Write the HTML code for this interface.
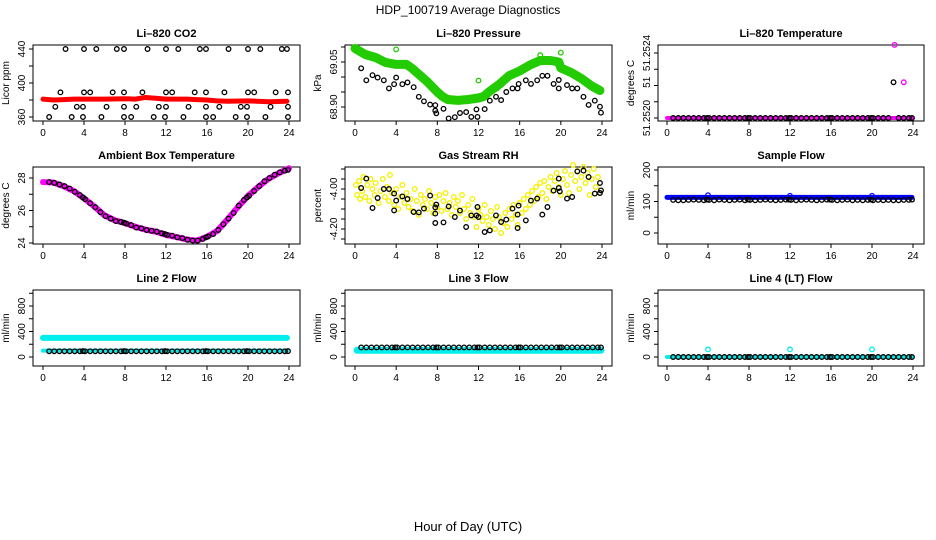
<!DOCTYPE html>
<html><head><meta charset="utf-8"><style>
body{margin:0;background:#fff}
svg{display:block;font-family:"Liberation Sans",sans-serif}
.t{font-weight:bold;font-size:11px}
.k{font-size:10px}
</style></head><body>
<svg id="c" width="936" height="540" viewBox="0 0 936 540">
<text x="468" y="14" text-anchor="middle" font-size="12">HDP_100719  Average Diagnostics</text>
<text x="468" y="531" text-anchor="middle" font-size="13">Hour of Day (UTC)</text>
</svg>
<script>
const xTicks=[0,4,8,12,16,20,24];
const blackHours=[0.6,1.1,1.6,2.1,2.6,3.1,3.6,3.9,4.1,4.6,5.1,5.6,6.1,6.6,7.1,7.6,7.9,8.1,8.6,9.1,9.6,10.1,10.6,11.1,11.6,11.9,12.1,12.6,13.1,13.6,14.1,14.6,15.1,15.6,15.9,16.1,16.6,17.1,17.6,18.1,18.6,19.1,19.6,19.9,20.1,20.6,21.1,21.6,22.1,22.6,23.1,23.6,23.9];
// CO2
const co2BlackH=[2.2,4.0,5.2,7.2,7.9,10.2,12.0,13.2,15.3,15.9,18.1,20.0,21.2,23.3,23.8,1.7,4.0,4.6,6.8,7.9,9.7,12.0,12.6,14.8,15.9,17.7,20.0,20.6,22.7,23.9,1.2,3.3,3.9,6.2,7.9,9.1,11.3,12.0,14.2,15.9,17.2,19.3,19.9,22.2,23.9,0.6,2.8,3.9,5.7,7.9,8.6,10.8,11.9,13.7,15.9,16.6,18.8,19.9,21.7,23.9];
const co2BlackV=[440,440,440,440,440,440,440,440,440,440,440,440,440,440,440,389,389,389,389,389,389,389,389,389,389,389,389,389,389,389,372,372,372,372,372,372,372,372,372,372,372,372,372,372,372,360,360,360,360,360,360,360,360,360,360,360,360,360,360,360];
const co2LineH=[0,1,2,3,4,6,8,9,10,11,12,14,15,16,17,18,20,22,23.8];
const co2LineV=[381,380,380.5,381,381,381,381.5,381,383,382,381,381,380.5,380,379,378.5,379,378,378.5];
// Pressure
const presBandH=[0,0.5,1,2,3,4,5,5.5,6,7,8,8.5,9,10,11,12,12.5,13,14,15,16,17,18,19,19.8,20,21,22,23,23.8];
const presBandV=[69.095,69.085,69.075,69.065,69.048,69.042,69.042,69.03,69.015,68.985,68.95,68.935,68.925,68.922,68.925,68.93,68.935,68.95,68.975,69.005,69.02,69.04,69.055,69.055,69.05,69.03,69.015,68.995,68.97,68.955];
const presGreenH=[4.0,12.0,18.0,20.0,13.8];
const presGreenV=[69.092,68.988,69.073,69.081,68.962];
const presBlackH=[0.6,1.1,1.7,2.2,2.8,3.3,3.8,4.0,4.6,5.1,5.7,6.2,6.7,7.3,7.8,7.8,7.9,8.6,9.1,9.7,10.2,10.8,11.3,11.8,11.9,12.6,13.1,13.7,14.2,14.7,15.3,15.8,15.9,16.6,17.1,17.7,18.2,18.7,19.3,19.8,19.8,20.6,21.1,21.6,22.2,22.7,23.3,23.8,23.9];
const presBlackV=[69.029,68.989,69.006,68.998,68.989,68.962,68.976,68.998,68.976,68.982,68.966,68.934,68.919,68.908,68.906,68.888,68.879,68.894,68.862,68.866,68.880,68.883,68.867,68.892,68.867,68.893,68.921,68.934,68.923,68.950,68.962,68.962,68.977,68.989,68.977,68.989,69.004,69.004,68.977,68.990,68.962,68.973,68.962,68.962,68.934,68.907,68.921,68.901,68.881];
// Li-820 temperature
const tempLineH=[0,23.9];
const tempLineV=[51.2520,51.2520];
const tempMagH=[22.2,23.1];
const tempMagV=[51.25245,51.25222];
const tempBlackV=[51.252,51.252,51.252,51.252,51.252,51.252,51.252,51.252,51.252,51.252,51.252,51.252,51.252,51.252,51.252,51.252,51.252,51.252,51.252,51.252,51.252,51.252,51.252,51.252,51.252,51.252,51.252,51.252,51.252,51.252,51.252,51.252,51.252,51.252,51.252,51.252,51.252,51.252,51.252,51.252,51.252,51.252,51.252,51.252,51.252,51.252,51.252,51.252,51.25222,51.252,51.252,51.252,51.252];
// Ambient box temperature
const ambLineH=[0,1,2,3,4,5,6,7,8,9,10,11,12,13,14,15,16,17,18,19,20,21,22,23,24];
const ambLineV=[27.75,27.72,27.5,27.2,26.75,26.25,25.7,25.4,25.22,25.0,24.82,24.7,24.5,24.37,24.22,24.15,24.38,24.75,25.45,26.2,26.9,27.45,27.95,28.3,28.6];
const ambBlackV=[27.75,27.7,27.6,27.5,27.35,27.15,26.95,26.8,26.7,26.45,26.2,25.9,25.65,25.5,25.35,25.3,25.25,25.2,25.1,24.95,24.9,24.8,24.75,24.7,24.6,24.55,24.5,24.45,24.35,24.3,24.2,24.15,24.15,24.25,24.35,24.4,24.55,24.8,25.15,25.5,25.85,26.3,26.65,26.8,26.9,27.2,27.5,27.8,28.0,28.2,28.35,28.45,28.5];
// RH
const rhYellowH=[0.1,0.2,0.4,0.5,0.7,0.8,1.0,1.2,1.4,1.5,1.7,1.9,2.0,2.3,2.5,2.7,2.9,3.1,3.3,3.4,3.6,3.8,4.0,4.2,4.4,4.6,4.8,5.0,5.2,5.4,5.6,5.8,6.0,6.2,6.4,6.6,6.8,7.0,7.2,7.4,7.6,7.8,8.0,8.2,8.4,8.6,8.8,9.0,9.2,9.4,9.6,9.8,10.0,10.2,10.4,10.6,10.8,11.0,11.2,11.4,11.6,11.8,12.0,12.2,12.4,12.6,12.8,13.0,13.2,13.4,13.6,13.8,14.0,14.2,14.4,14.6,14.8,15.0,15.2,15.4,15.6,15.8,16.0,16.2,16.4,16.6,16.8,17.0,17.2,17.4,17.6,17.8,18.0,18.2,18.4,18.6,18.8,19.0,19.2,19.4,19.6,19.8,20.0,20.2,20.4,20.6,20.8,21.0,21.2,21.4,21.6,21.8,22.0,22.2,22.4,22.6,22.8,23.0,23.2,23.4,23.6,23.8];
const rhYellowV=[-3.98,-4.03,-3.96,-4.05,-4.01,-3.94,-4.04,-3.98,-4.06,-3.95,-4.00,-4.03,-3.97,-4.07,-4.01,-3.95,-4.04,-3.99,-4.06,-3.93,-4.02,-4.08,-4.00,-4.10,-4.04,-3.98,-4.07,-4.02,-4.09,-4.05,-4.11,-4.00,-4.06,-4.13,-4.03,-4.08,-4.05,-4.10,-4.01,-4.07,-4.12,-4.04,-4.09,-4.03,-4.11,-4.06,-4.02,-4.10,-4.07,-4.13,-4.04,-4.09,-4.06,-4.12,-4.03,-4.10,-4.15,-4.08,-4.12,-4.05,-4.14,-4.19,-4.10,-4.13,-4.16,-4.08,-4.14,-4.18,-4.11,-4.15,-4.20,-4.09,-4.14,-4.22,-4.17,-4.12,-4.19,-4.10,-4.15,-4.08,-4.13,-4.18,-4.07,-4.12,-4.05,-4.10,-4.03,-4.08,-4.01,-4.06,-3.99,-4.04,-3.97,-4.02,-3.96,-4.05,-3.99,-3.94,-4.01,-3.96,-3.92,-3.99,-4.03,-3.95,-3.91,-3.98,-4.02,-3.93,-3.88,-3.96,-3.91,-4.00,-3.94,-3.89,-3.97,-3.92,-4.03,-3.95,-3.90,-3.99,-3.94,-4.02];
const rhBlackH=[0.6,1.1,1.7,2.2,2.8,3.3,3.8,3.8,4.0,4.6,5.1,5.7,6.2,6.7,7.3,7.8,7.8,7.8,7.9,8.6,9.1,9.7,10.2,10.8,11.3,11.8,11.9,12.0,12.6,13.1,13.7,14.2,14.7,15.3,15.8,15.8,15.9,16.6,17.1,17.7,18.2,18.7,19.3,19.8,19.8,19.9,20.6,21.1,21.6,22.2,22.7,23.3,23.8,23.9,23.8];
const rhBlackV=[-3.995,-3.948,-4.095,-4.045,-4.00,-4.00,-4.023,-4.107,-4.058,-4.037,-4.05,-4.115,-4.117,-4.098,-4.033,-4.092,-4.123,-4.17,-4.078,-4.167,-4.087,-4.14,-4.108,-4.19,-4.132,-4.132,-4.09,-4.14,-4.215,-4.207,-4.132,-4.165,-4.153,-4.098,-4.128,-4.195,-4.083,-4.157,-4.058,-4.048,-4.128,-4.09,-4.008,-3.948,-3.995,-4.012,-4.048,-4.04,-3.912,-3.908,-3.94,-4.023,-3.97,-4.007,-4.02];
// Flows
const sfLineH=[0,23.9];const sfLineV=[113,113];
const sfBlueH=[4.0,12.0,20.0];const sfBlueV=[120,118,118];
const sfBlackV=[105,104,104,105,106,105,104,106,105,104,106,105,104,105,106,104,106,105,104,105,106,105,104,105,106,106,105,104,105,106,105,104,105,106,106,105,104,105,106,104,105,104,105,106,104,105,104,105,104,104,105,105,106];
const l2UpperH=[0,23.8];const l2UpperV=[300,300];
const l2LowerH=[0,23.8];const l2LowerV=[100,100];
const l2BlackV=[90,90,90,90,90,90,90,92,90,90,90,90,90,90,90,90,92,90,90,90,90,90,90,90,90,92,90,90,90,90,90,90,90,90,92,90,90,90,90,90,90,90,90,92,90,90,90,90,90,90,90,90,92];
const l3LineH=[0.2,23.9];const l3LineV=[105,105];
const l3BlackV=[150,150,150,150,150,150,150,150,150,150,150,150,150,150,150,150,150,150,150,150,150,150,150,150,150,150,150,150,150,150,150,150,150,150,150,150,150,150,150,150,150,150,150,150,150,150,150,150,150,150,150,150,150];
const l4LineH=[0,23.9];const l4LineV=[0,0];
const l4CyanH=[4.0,12.0,20.0];const l4CyanV=[120,120,120];
const l4BlackV=[0,0,0,0,0,0,0,0,0,0,0,0,0,0,0,0,0,0,0,0,0,0,0,0,0,0,0,0,0,0,0,0,0,0,0,0,0,0,0,0,0,0,0,0,0,0,0,0,0,0,0,0,0];

const NS='http://www.w3.org/2000/svg';
const svg=document.getElementById('c');
const cols=[{b0:33,b1:300,x0:43,x24:289},{b0:345,b1:612,x0:355,x24:602},{b0:658,b1:924,x0:667,x24:913}];
const rows=[{t:45,b:121},{t:167,b:244},{t:290,b:366}];
function mk(tag,attrs,parent){const e=document.createElementNS(NS,tag);for(const k in attrs)e.setAttribute(k,attrs[k]);(parent||svg).appendChild(e);return e;}
function panel(c,r,name,title,ytitle,a,ticks,labels){
  const C=cols[c],R=rows[r];
  const g=mk('g',{});
  
  
  const sx=h=>C.x0+(C.x24-C.x0)*h/24;
  const sy=v=>a[1]+(v-a[0])*(a[3]-a[1])/(a[2]-a[0]);
  const tt=mk('text',{x:(C.b0+C.b1)/2,y:R.t-8,'text-anchor':'middle',class:'t'},g);tt.textContent=title;
  
  
  const box=mk('rect',{x:C.b0,y:R.t,width:C.b1-C.b0,height:R.b-R.t,fill:'none',stroke:'#000','stroke-width':1},g);
  
  
  const xa=mk('g',{},g);
  
  
  xTicks.forEach(h=>{mk('line',{x1:sx(h),x2:sx(h),y1:R.b,y2:R.b+4,stroke:'#000'},xa);
    const t=mk('text',{x:sx(h),y:R.b+15,'text-anchor':'middle',class:'k'},xa);t.textContent=h;});
  const ya=mk('g',{},g);
  
  
  ticks.forEach(v=>mk('line',{x1:C.b0-4,x2:C.b0,y1:sy(v),y2:sy(v),stroke:'#000'},ya));
  labels.forEach(l=>{const x=C.b0-8,y=sy(l[0]);const t=mk('text',{x:x,y:y,'text-anchor':'middle',class:'k',transform:`rotate(-90 ${x} ${y})`},ya);t.textContent=l[1];});
  const yt=mk('text',{x:C.b0-24,y:(R.t+R.b)/2,'text-anchor':'middle',class:'k',transform:`rotate(-90 ${C.b0-24} ${(R.t+R.b)/2})`},g);yt.textContent=ytitle;
  
  
  return {g,sx,sy};
}
function band(P,xs,ys,color,w,nm){
  const pts=xs.map((h,i)=>P.sx(h)+','+P.sy(ys[i])).join(' ');
  const e=mk('polyline',{points:pts,fill:'none',stroke:color,'stroke-width':w,'stroke-linecap':'round','stroke-linejoin':'round'},P.g);
  
  
}
function pts(P,xs,ys,color,nm){
  const gg=mk('g',{},P.g);
  
  
  const n=Math.min(xs.length,ys.length);
  for(let i=0;i<n;i++){mk('circle',{cx:P.sx(xs[i]),cy:P.sy(ys[i]),r:2.3,fill:'none',stroke:color,'stroke-width':1.3},gg);}
}
let P;
P=panel(0,0,'co2','Li\u2013820 CO2','Licor ppm',[360,117,440,49],[360,380,400,420,440],[[360,'360'],[400,'400'],[440,'440']]);
band(P,co2LineH,co2LineV,'#ff0000',5,'co2-red-series');pts(P,co2BlackH,co2BlackV,'#000','co2-black-points');
P=panel(1,0,'pressure','Li\u2013820 Pressure','kPa',[68.90,107,69.05,62],[68.90,68.95,69.00,69.05,69.10],[[68.90,'68.90'],[69.05,'69.05']]);
band(P,presBandH,presBandV,'#22cc00',9,'pressure-green-band');pts(P,presGreenH,presGreenV,'#22cc00','pressure-green-points');pts(P,presBlackH,presBlackV,'#000','pressure-black-points');
P=panel(2,0,'li820-temp','Li\u2013820 Temperature','degrees C',[51.2520,118,51.2524,53],[51.2520,51.2521,51.2522,51.2523,51.2524],[[51.2520,'51.2520'],[51.25222,'51'],[51.2524,'51.2524']]);
band(P,tempLineH,tempLineV,'#ff00ff',4,'temp-magenta-series');pts(P,blackHours,tempBlackV,'#000','temp-black-points');pts(P,tempMagH,tempMagV,'#ff00ff','temp-magenta-points');
P=panel(0,1,'ambient','Ambient Box Temperature','degrees C',[24,243,28,178],[24,25,26,27,28],[[24,'24'],[26,'26'],[28,'28']]);
band(P,ambLineH,ambLineV,'#ff00ff',6,'ambient-magenta-band');pts(P,blackHours,ambBlackV,'#000','ambient-black-points');
P=panel(1,1,'rh','Gas Stream RH','percent',[-4.00,189,-4.20,229],[-3.90,-3.95,-4.00,-4.05,-4.10,-4.15,-4.20,-4.25],[[-4.00,'-4.00'],[-4.20,'-4.20']]);
pts(P,rhYellowH,rhYellowV,'#f5f000','rh-yellow-points');pts(P,rhBlackH,rhBlackV,'#000','rh-black-points');
P=panel(2,1,'sample-flow','Sample Flow','ml/min',[0,233,200,170],[0,50,100,150,200],[[0,'0'],[100,'100'],[200,'200']]);
band(P,sfLineH,sfLineV,'#0000ff',5,'sample-flow-blue-series');pts(P,sfBlueH,sfBlueV,'#0000ff','sample-flow-blue-points');pts(P,blackHours,sfBlackV,'#000','sample-flow-black-points');
const fT=[0,200,400,600,800,1000],fL=[[0,'0'],[400,'400'],[800,'800']];
P=panel(0,2,'line2','Line 2 Flow','ml/min',[0,357,800,306],fT,fL);
band(P,l2UpperH,l2UpperV,'#00eeee',6,'line2-upper-cyan');band(P,l2LowerH,l2LowerV,'#00eeee',4,'line2-lower-cyan');pts(P,blackHours,l2BlackV,'#000','line2-black-points');
P=panel(1,2,'line3','Line 3 Flow','ml/min',[0,357,800,306],fT,fL);
band(P,l3LineH,l3LineV,'#00eeee',7,'line3-cyan-band');pts(P,blackHours,l3BlackV,'#000','line3-black-points');
P=panel(2,2,'line4','Line 4 (LT) Flow','ml/min',[0,357,800,306],fT,fL);
band(P,l4LineH,l4LineV,'#00eeee',4,'line4-cyan-series');pts(P,l4CyanH,l4CyanV,'#00eeee','line4-cyan-points');pts(P,blackHours,l4BlackV,'#000','line4-black-points');
</script>
</body></html>
